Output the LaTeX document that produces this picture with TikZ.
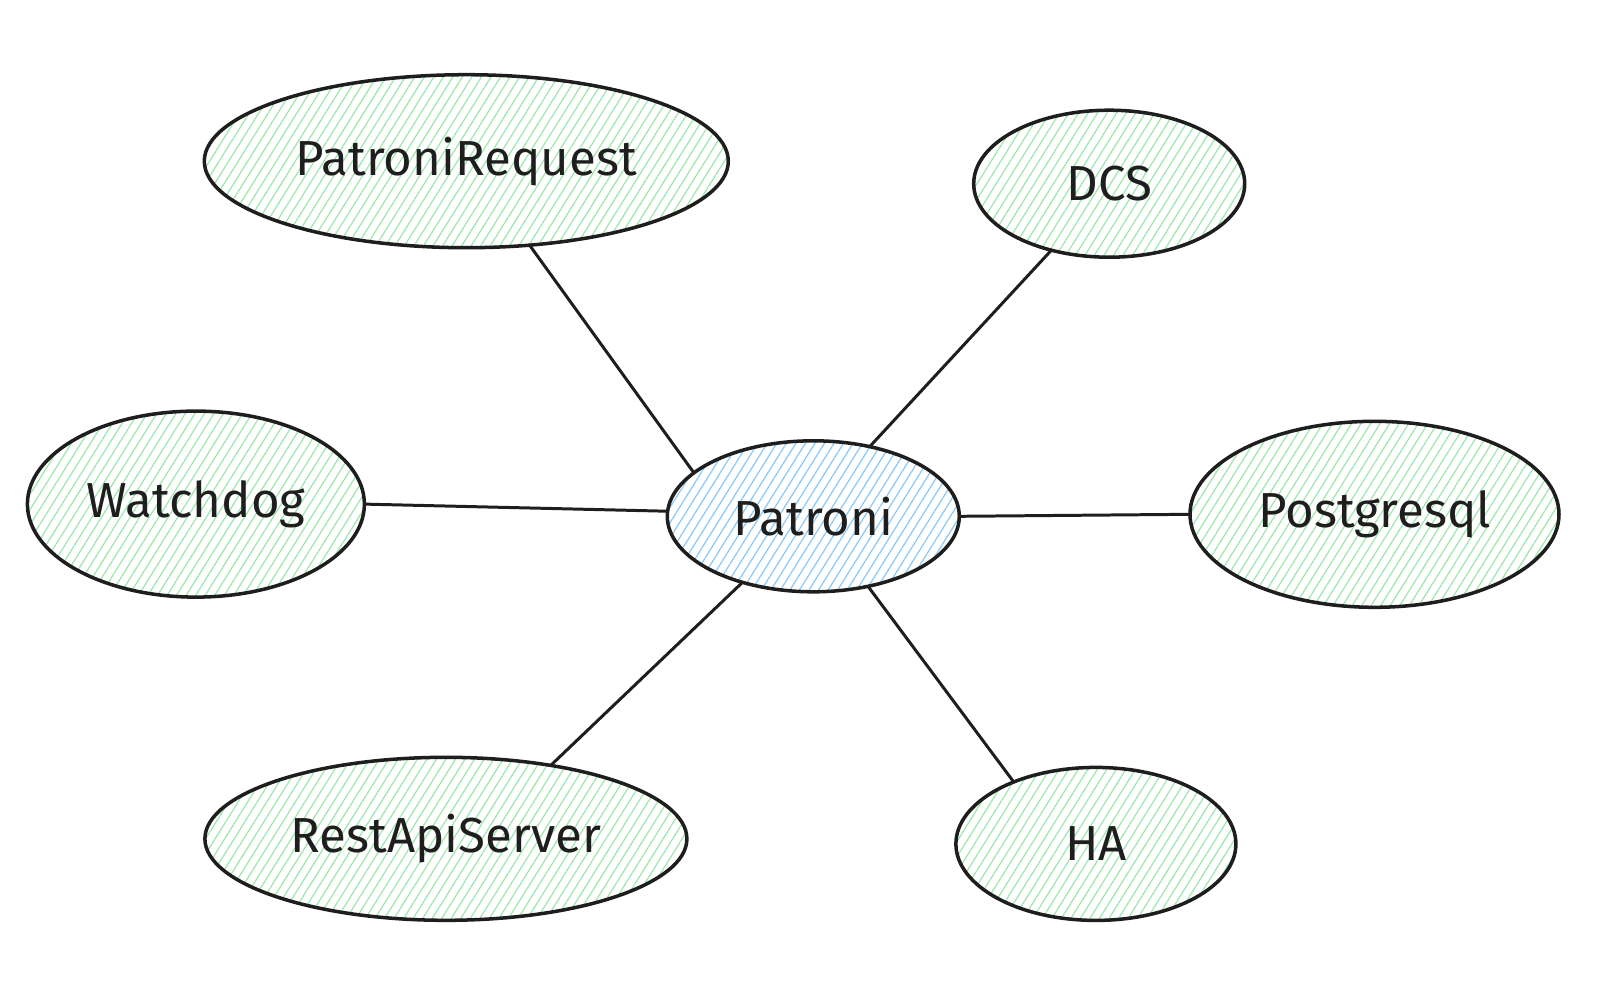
\documentclass[tikz,border=0pt]{standalone}
\usepackage{fontspec}
\setmainfont{Fira Sans}
\usetikzlibrary{shapes.geometric,patterns.meta}
\definecolor{ink}{HTML}{1E1E1E}
\definecolor{hgreen}{HTML}{9FE6AA}
\definecolor{hblue}{HTML}{8CC8F5}
\tikzset{
  bubble/.style={ellipse, draw=ink, line width=1pt, inner sep=0pt, outer sep=0pt,
    font=\fontsize{14}{16}\selectfont, text=ink,
    pattern={Lines[angle=58,distance=2.3pt,line width=0.35pt]}, pattern color=hgreen},
  core/.style={bubble, pattern color=hblue},
  link/.style={draw=ink, line width=0.85pt, line cap=round}
}
\begin{document}
\begin{tikzpicture}[x=0.1mm,y=-0.1mm]
\useasboundingbox (0,0) rectangle (1600,1000);
\node[bubble, minimum width=52.4mm, minimum height=17.3mm] (req) at (466.3,161.2) {PatroniRequest};
\node[bubble, minimum width=27.1mm, minimum height=14.7mm] (dcs) at (1109.2,183.7) {DCS};
\node[bubble, minimum width=33.7mm, minimum height=18.6mm] (wd) at (195.9,504.1) {Watchdog};
\node[core, minimum width=29.2mm, minimum height=15.1mm] (pat) at (813.3,516.3) {Patroni};
\node[bubble, minimum width=36.9mm, minimum height=18.6mm] (pg) at (1374.5,514.3) {Postgresql};
\node[bubble, minimum width=48.2mm, minimum height=16.3mm] (rest) at (445.9,838.8) {RestApiServer};
\node[bubble, minimum width=28.0mm, minimum height=15.3mm] (ha) at (1095.9,843.9) {HA};
\draw[link] (pat.160) -- (req.307);
\draw[link] (pat.51) -- (dcs.229);
\draw[link] (pat.178) -- (wd.0);
\draw[link] (pat.0) -- (pg.180);
\draw[link] (pat.223) -- (rest.35);
\draw[link] (pat.308) -- (ha.143);
\end{tikzpicture}
\end{document}
